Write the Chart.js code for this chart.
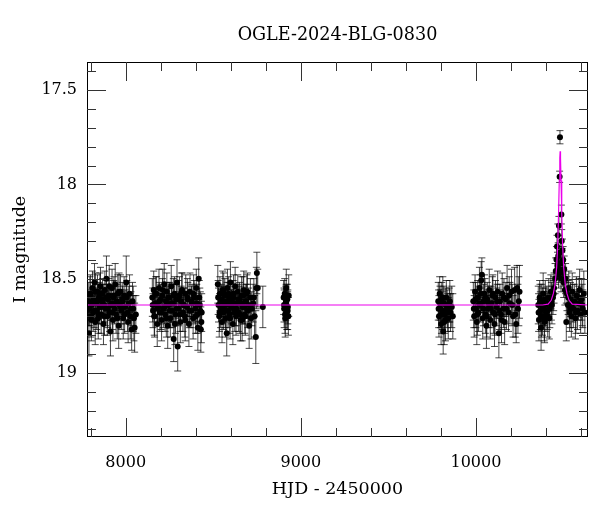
<!DOCTYPE html>
<html>
<head>
<meta charset="utf-8">
<title>OGLE-2024-BLG-0830</title>
<script src="https://cdn.jsdelivr.net/npm/chart.js@4.4.1/dist/chart.umd.min.js"></script>
<style>
  html, body { margin: 0; padding: 0; background: #fff; }
  canvas { display: block; }
</style>
</head>
<body>
<canvas id="lightCurve" width="600" height="512"></canvas>
<script>
// photometry: HJD - 2450000, I mag, error
const hjd = [
  7786, 7790, 7794, 7798, 7802, 7806, 7810, 7814, 7818, 7822, 7826, 7830, 7835, 7839, 7843, 7847,
  7851, 7856, 7860, 7864, 7868, 7873, 7877, 7881, 7886, 7890, 7895, 7899, 7904, 7908, 7913, 7917,
  7922, 7927, 7931, 7936, 7940, 7945, 7950, 7955, 7960, 7965, 7970, 7975, 7980, 7986, 7991, 7997,
  8003, 8010, 8018, 8026, 8034, 8043, 8051, 8058,
  8152, 8156, 8160, 8165, 8170, 8175, 8180, 8185, 8190, 8195, 8200, 8205, 8210, 8215, 8220, 8225,
  8230, 8235, 8240, 8245, 8250, 8255, 8260, 8265, 8270, 8274, 8279, 8284, 8289, 8293, 8297, 8302,
  8307, 8312, 8317, 8322, 8327, 8332, 8338, 8343, 8349, 8355, 8361, 8367, 8373, 8379, 8385, 8391,
  8397, 8403, 8409, 8417, 8423, 8429, 8434,
  8526, 8530, 8534, 8538, 8542, 8546, 8550, 8554, 8558, 8562, 8566, 8570, 8574, 8577, 8581, 8585,
  8590, 8594, 8598, 8603, 8607, 8612, 8616, 8621, 8625, 8630, 8635, 8640, 8645, 8650, 8656, 8662,
  8668, 8674, 8680, 8686, 8692, 8698, 8705, 8712, 8720, 8728, 8736, 8743, 8749, 8754, 8783,
  8902, 8905, 8908, 8911, 8914, 8917, 8920, 8923, 8926, 8929, 8931,
  9785, 9789, 9793, 9797, 9801, 9805, 9809, 9813, 9817, 9821, 9826, 9831, 9836, 9842, 9848, 9855,
  9862, 9868,
  9985, 9990, 9995, 10000, 10005, 10010, 10015, 10020, 10025, 10030, 10034, 10039, 10044, 10049,
  10054, 10060, 10065, 10070, 10076, 10082, 10088, 10094, 10100, 10106, 10112, 10118, 10124, 10131,
  10137, 10143, 10150, 10157, 10164, 10171, 10178, 10186, 10194, 10203, 10212, 10221, 10230, 10240,
  10249,
  10356, 10360, 10364, 10368, 10372, 10376, 10380, 10384, 10388, 10392, 10396, 10400, 10405, 10410,
  10416, 10422, 10428, 10434, 10440, 10446, 10452, 10456, 10460, 10463, 10466, 10468, 10470, 10472,
  10474, 10476, 10478, 10480, 10482, 10484, 10486, 10488, 10490, 10492, 10494, 10496, 10498, 10501,
  10504, 10508, 10512, 10516, 10520, 10525, 10530, 10535, 10540, 10545, 10550, 10556, 10562, 10568,
  10574, 10580, 10586, 10592, 10598, 10604, 10610, 10616, 10622,
  // second pass over the dense seasons
  7788, 7796, 7804, 7812, 7820, 7828, 7837, 7845, 7853, 7862, 7871, 7879, 7888, 7897, 7906,
  7915, 7924, 7933, 7942, 7952, 7962, 7972, 7983, 7994, 8006, 8014, 8022, 8030, 8039, 8047,
  8154, 8163, 8172, 8182, 8192, 8202, 8212, 8222, 8232, 8242, 8252, 8262, 8272, 8281, 8291,
  8300, 8310, 8320, 8330, 8340, 8352, 8364, 8376, 8388, 8400, 8406, 8412, 8420, 8426, 8432,
  8528, 8536, 8544, 8552, 8560, 8568, 8579, 8588, 8596, 8605, 8614, 8623, 8632, 8642, 8652,
  8659, 8665, 8671, 8677, 8683, 8689, 8695, 8702, 8716, 8732, 8746,
  8904, 8910, 8916, 8925,
  9787, 9795, 9803, 9811, 9819, 9828, 9839, 9851,
  9988, 9998, 10008, 10018, 10028, 10042, 10052, 10062, 10073, 10085, 10097, 10109, 10121, 10134,
  10146, 10160, 10174, 10190, 10207, 10225, 10235, 10245,
  10358, 10366, 10374, 10382, 10390, 10398, 10408, 10419, 10431, 10444, 10527, 10538, 10553, 10571,
  10589, 10607
];
const mag = [
  18.62, 18.79, 18.66, 18.58, 18.70, 18.64, 18.55, 18.68, 18.61, 18.52, 18.73, 18.63, 18.67, 18.57, 18.71, 18.60,
  18.65, 18.54, 18.69, 18.62, 18.58, 18.74, 18.64, 18.56, 18.66, 18.50, 18.70, 18.61, 18.59, 18.68, 18.78, 18.63,
  18.55, 18.72, 18.60, 18.66, 18.53, 18.69, 18.62, 18.58, 18.75, 18.64, 18.57, 18.67, 18.61, 18.71, 18.59, 18.65,
  18.52, 18.68, 18.63, 18.70, 18.77, 18.66, 18.76, 18.69,
  18.60, 18.67, 18.56, 18.70, 18.63, 18.58, 18.74, 18.65, 18.55, 18.68, 18.61, 18.72, 18.59, 18.66, 18.53, 18.69,
  18.62, 18.57, 18.75, 18.64, 18.60, 18.71, 18.54, 18.67, 18.63, 18.82, 18.58, 18.69, 18.61, 18.52, 18.86, 18.66,
  18.59, 18.73, 18.62, 18.56, 18.68, 18.64, 18.70, 18.58, 18.65, 18.61, 18.74, 18.57, 18.67, 18.63, 18.71, 18.60,
  18.66, 18.55, 18.69, 18.50, 18.64, 18.77, 18.68,
  18.53, 18.64, 18.70, 18.58, 18.66, 18.61, 18.73, 18.56, 18.68, 18.62, 18.59, 18.71, 18.64, 18.79, 18.55, 18.67,
  18.60, 18.69, 18.52, 18.65, 18.62, 18.74, 18.58, 18.66, 18.54, 18.70, 18.63, 18.57, 18.68, 18.61, 18.72, 18.59,
  18.65, 18.56, 18.69, 18.62, 18.58, 18.67, 18.75, 18.60, 18.66, 18.63, 18.70, 18.81, 18.47, 18.55, 18.65,
  18.60, 18.66, 18.58, 18.71, 18.63, 18.55, 18.68, 18.61, 18.65, 18.70, 18.59,
  18.62, 18.70, 18.58, 18.66, 18.74, 18.61, 18.67, 18.78, 18.63, 18.69, 18.72, 18.60, 18.66, 18.71, 18.64, 18.68,
  18.65, 18.70,
  18.62, 18.70, 18.57, 18.66, 18.73, 18.60, 18.68, 18.55, 18.64, 18.51, 18.48, 18.71, 18.62, 18.58,
  18.69, 18.75, 18.61, 18.66, 18.56, 18.72, 18.63, 18.59, 18.68, 18.74, 18.60, 18.65, 18.57, 18.79,
  18.62, 18.69, 18.58, 18.66, 18.73, 18.61, 18.55, 18.68, 18.63, 18.57, 18.70, 18.56, 18.74, 18.66,
  18.57,
  18.64, 18.72, 18.60, 18.67, 18.76, 18.62, 18.70, 18.58, 18.66, 18.73, 18.61, 18.68, 18.63, 18.70,
  18.60, 18.66, 18.57, 18.64, 18.60, 18.55, 18.50, 18.46, 18.40, 18.33, 18.43, 18.27, 18.38, 18.48,
  18.22, 18.45, 17.96, 17.75, 18.36, 18.42, 18.50, 18.16, 18.30, 18.41, 18.35, 18.47, 18.40, 18.52,
  18.45, 18.56, 18.50, 18.73, 18.58, 18.64, 18.55, 18.68, 18.61, 18.70, 18.57, 18.66, 18.62, 18.71,
  18.59, 18.67, 18.63, 18.56, 18.69, 18.61, 18.66, 18.58, 18.68,
  // second pass
  18.66, 18.59, 18.72, 18.63, 18.67, 18.57, 18.62, 18.69, 18.58, 18.65, 18.61, 18.70, 18.60, 18.66, 18.54,
  18.64, 18.68, 18.59, 18.63, 18.71, 18.57, 18.65, 18.62, 18.69, 18.60, 18.73, 18.58, 18.66, 18.62, 18.71,
  18.64, 18.70, 18.58, 18.66, 18.62, 18.68, 18.56, 18.65, 18.71, 18.60, 18.67, 18.63, 18.59, 18.74, 18.66,
  18.61, 18.69, 18.57, 18.64, 18.72, 18.60, 18.67, 18.62, 18.58, 18.70, 18.63, 18.76, 18.60, 18.67, 18.73,
  18.60, 18.68, 18.62, 18.65, 18.57, 18.67, 18.62, 18.58, 18.71, 18.64, 18.60, 18.68, 18.66, 18.61, 18.69,
  18.63, 18.72, 18.59, 18.65, 18.70, 18.62, 18.57, 18.64, 18.71, 18.60, 18.55,
  18.64, 18.69, 18.62, 18.67,
  18.66, 18.63, 18.69, 18.60, 18.73, 18.64, 18.68, 18.62,
  18.66, 18.61, 18.69, 18.63, 18.58, 18.66, 18.60, 18.70, 18.63, 18.66, 18.58, 18.69, 18.62, 18.67,
  18.72, 18.60, 18.66, 18.59, 18.64, 18.69, 18.55, 18.62,
  18.68, 18.62, 18.70, 18.65, 18.72, 18.64, 18.67, 18.71, 18.62, 18.58, 18.60, 18.66, 18.63, 18.68,
  18.60, 18.64
];
const magErr = [
  0.10, 0.12, 0.09, 0.10, 0.11, 0.08, 0.09, 0.10, 0.09, 0.10, 0.12, 0.08, 0.10, 0.09, 0.11, 0.08,
  0.09, 0.10, 0.10, 0.09, 0.08, 0.11, 0.09, 0.10, 0.09, 0.12, 0.10, 0.08, 0.09, 0.10, 0.13, 0.09,
  0.10, 0.11, 0.09, 0.08, 0.11, 0.10, 0.09, 0.10, 0.12, 0.08, 0.09, 0.10, 0.09, 0.11, 0.10, 0.09,
  0.14, 0.10, 0.09, 0.12, 0.11, 0.12, 0.13, 0.10,
  0.10, 0.09, 0.10, 0.11, 0.08, 0.09, 0.12, 0.09, 0.10, 0.10, 0.08, 0.11, 0.09, 0.10, 0.11, 0.09,
  0.08, 0.10, 0.12, 0.09, 0.08, 0.10, 0.11, 0.09, 0.10, 0.12, 0.09, 0.10, 0.08, 0.12, 0.13, 0.09,
  0.10, 0.11, 0.08, 0.09, 0.10, 0.09, 0.11, 0.10, 0.08, 0.09, 0.12, 0.10, 0.09, 0.10, 0.11, 0.09,
  0.08, 0.10, 0.10, 0.11, 0.09, 0.12, 0.10,
  0.10, 0.09, 0.11, 0.09, 0.10, 0.08, 0.11, 0.10, 0.09, 0.08, 0.09, 0.10, 0.09, 0.12, 0.10, 0.09,
  0.08, 0.10, 0.11, 0.09, 0.08, 0.11, 0.10, 0.09, 0.10, 0.10, 0.08, 0.09, 0.10, 0.09, 0.11, 0.10,
  0.09, 0.10, 0.10, 0.09, 0.10, 0.09, 0.12, 0.10, 0.09, 0.10, 0.11, 0.14, 0.11, 0.10, 0.11,
  0.09, 0.10, 0.08, 0.10, 0.09, 0.10, 0.09, 0.08, 0.09, 0.10, 0.11,
  0.10, 0.11, 0.09, 0.10, 0.11, 0.09, 0.10, 0.12, 0.09, 0.10, 0.11, 0.09, 0.10, 0.11, 0.09, 0.10,
  0.11, 0.12,
  0.10, 0.11, 0.09, 0.10, 0.12, 0.09, 0.10, 0.11, 0.09, 0.10, 0.09, 0.11, 0.09, 0.10,
  0.10, 0.12, 0.09, 0.10, 0.11, 0.10, 0.09, 0.10, 0.11, 0.12, 0.09, 0.10, 0.11, 0.13,
  0.09, 0.10, 0.11, 0.10, 0.12, 0.09, 0.12, 0.10, 0.11, 0.12, 0.11, 0.12, 0.10, 0.13,
  0.14,
  0.10, 0.11, 0.09, 0.10, 0.12, 0.09, 0.10, 0.11, 0.09, 0.11, 0.10, 0.10, 0.09, 0.11,
  0.10, 0.10, 0.09, 0.10, 0.09, 0.08, 0.08, 0.07, 0.07, 0.06, 0.07, 0.06, 0.07, 0.07,
  0.05, 0.07, 0.03, 0.035, 0.06, 0.07, 0.07, 0.05, 0.06, 0.07, 0.06, 0.07, 0.07, 0.08,
  0.07, 0.08, 0.08, 0.10, 0.09, 0.10, 0.09, 0.10, 0.09, 0.11, 0.10, 0.10, 0.09, 0.11,
  0.10, 0.10, 0.09, 0.11, 0.10, 0.11, 0.10, 0.12, 0.11,
  // second pass
  0.09, 0.10, 0.11, 0.08, 0.09, 0.10, 0.09, 0.10, 0.11, 0.09, 0.08, 0.10, 0.09, 0.10, 0.11,
  0.08, 0.09, 0.10, 0.09, 0.11, 0.10, 0.09, 0.08, 0.10, 0.09, 0.11, 0.10, 0.09, 0.10, 0.12,
  0.09, 0.10, 0.09, 0.08, 0.10, 0.09, 0.11, 0.09, 0.10, 0.08, 0.09, 0.10, 0.09, 0.11, 0.08,
  0.10, 0.09, 0.10, 0.09, 0.11, 0.10, 0.09, 0.08, 0.10, 0.09, 0.10, 0.12, 0.09, 0.10, 0.11,
  0.09, 0.10, 0.08, 0.09, 0.10, 0.09, 0.10, 0.09, 0.11, 0.08, 0.09, 0.10, 0.09, 0.08, 0.10,
  0.09, 0.11, 0.10, 0.09, 0.10, 0.09, 0.10, 0.09, 0.11, 0.10, 0.11,
  0.09, 0.10, 0.09, 0.10,
  0.10, 0.09, 0.10, 0.11, 0.12, 0.09, 0.10, 0.11,
  0.10, 0.09, 0.11, 0.09, 0.10, 0.09, 0.10, 0.11, 0.09, 0.10, 0.10, 0.11, 0.09, 0.10,
  0.12, 0.10, 0.11, 0.10, 0.11, 0.12, 0.12, 0.13,
  0.10, 0.09, 0.11, 0.10, 0.11, 0.09, 0.10, 0.11, 0.10, 0.09, 0.09, 0.10, 0.10, 0.11,
  0.10, 0.11
];

// microlensing model curve
const modelHjd = [7779, 10380, 10412, 10430, 10442, 10452, 10461, 10467, 10472, 10476, 10479, 10481,
  10483, 10486, 10490, 10495, 10501, 10510, 10520, 10532, 10550, 10640];
const modelMag = [18.64, 18.64, 18.635, 18.615, 18.58, 18.53, 18.44, 18.32, 18.15, 17.98, 17.86, 17.825,
  17.86, 17.98, 18.15, 18.32, 18.44, 18.53, 18.58, 18.615, 18.635, 18.64];

const xTicks = [8000, 9000, 10000];
const yTicks = [17.5, 18, 18.5, 19];
const xRange = [7779, 10640];
const yRange = [17.351, 19.34];

const FONT = "'DejaVu Serif', 'Liberation Serif', serif";
Chart.defaults.font.family = FONT;
Chart.defaults.font.size = 16;
Chart.defaults.color = '#000';

// error bars with caps, under the points
const errorBars = {
  id: 'errorBars',
  beforeDatasetsDraw(chart) {
    const { ctx, chartArea: a, scales: { x, y } } = chart;
    ctx.save();
    ctx.beginPath();
    ctx.rect(a.left, a.top, a.width, a.height);
    ctx.clip();
    ctx.strokeStyle = 'rgba(0,0,0,0.72)';
    ctx.lineWidth = 1;
    hjd.forEach((t, i) => {
      const px = x.getPixelForValue(t);
      const top = y.getPixelForValue(mag[i] - magErr[i]);
      const bot = y.getPixelForValue(mag[i] + magErr[i]);
      ctx.beginPath();
      ctx.moveTo(px, top); ctx.lineTo(px, bot);
      ctx.moveTo(px - 3.5, top); ctx.lineTo(px + 3.5, top);
      ctx.moveTo(px - 3.5, bot); ctx.lineTo(px + 3.5, bot);
      ctx.stroke();
    });
    ctx.restore();
  }
};

// box frame with inward ticks on all four sides, plus the title
const frameTicks = {
  id: 'frameTicks',
  afterDraw(chart) {
    const { ctx, chartArea: a, scales: { x, y } } = chart;
    ctx.save();
    ctx.strokeStyle = '#000';
    ctx.lineWidth = 1;
    ctx.strokeRect(a.left + 0.5, a.top + 0.5, a.width - 1, a.height - 1);
    ctx.strokeStyle = '#333';
    ctx.beginPath();
    for (let v = 7800; v <= 10600; v += 200) {
      const px = Math.round(x.getPixelForValue(v)) + 0.5;
      const len = v % 1000 === 0 ? 19 : 9;
      ctx.moveTo(px, a.bottom); ctx.lineTo(px, a.bottom - len);
      ctx.moveTo(px, a.top); ctx.lineTo(px, a.top + len);
    }
    for (let k = 174; k <= 193; k++) {
      const py = Math.round(y.getPixelForValue(k / 10)) + 0.5;
      const len = k % 5 === 0 ? 19 : 9;
      ctx.moveTo(a.left, py); ctx.lineTo(a.left + len, py);
      ctx.moveTo(a.right, py); ctx.lineTo(a.right - len, py);
    }
    ctx.stroke();

    ctx.fillStyle = '#000';
    ctx.font = '17.6px ' + FONT;
    ctx.textAlign = 'center';
    ctx.textBaseline = 'middle';
    ctx.fillText('OGLE-2024-BLG-0830', (a.left + a.right) / 2, 35);
    ctx.restore();
  }
};

const points = hjd.map((t, i) => ({ x: t, y: mag[i] }));
const model = modelHjd.map((t, i) => ({ x: t, y: modelMag[i] }));

new Chart(document.getElementById('lightCurve').getContext('2d'), {
  type: 'scatter',
  data: {
    datasets: [
      {
        label: 'model',
        data: model,
        showLine: true,
        borderColor: 'rgb(235,0,235)',
        borderWidth: 1.2,
        pointRadius: 0,
        tension: 0,
        order: 0
      },
      {
        label: 'OGLE I',
        data: points,
        backgroundColor: '#000',
        borderColor: '#000',
        borderWidth: 0,
        pointRadius: 3,
        order: 1
      }
    ]
  },
  options: {
    responsive: false,
    animation: false,
    layout: { padding: { top: 62, right: 12 } },
    plugins: {
      legend: { display: false },
      tooltip: { enabled: false }
    },
    scales: {
      x: {
        type: 'linear',
        min: xRange[0],
        max: xRange[1],
        grid: { display: false, drawTicks: false },
        border: { display: false },
        afterBuildTicks: axis => { axis.ticks = xTicks.map(v => ({ value: v })); },
        afterFit: axis => { axis.height = 75; },
        ticks: { callback: v => String(v), padding: 16, maxRotation: 0 },
        title: {
          display: true, text: 'HJD - 2450000',
          font: { size: 17.5 }, padding: { top: 0, bottom: 12.5 }
        }
      },
      y: {
        type: 'linear',
        reverse: true,
        min: yRange[0],
        max: yRange[1],
        grid: { display: false, drawTicks: false },
        border: { display: false },
        afterBuildTicks: axis => { axis.ticks = yTicks.map(v => ({ value: v })); },
        afterFit: axis => { axis.width = 87; },
        ticks: { callback: v => String(v), padding: 10 },
        title: {
          display: true, text: 'I magnitude',
          font: { size: 17.5 }, padding: { top: 10, bottom: 4 }
        }
      }
    }
  },
  plugins: [errorBars, frameTicks]
});
</script>
</body>
</html>
